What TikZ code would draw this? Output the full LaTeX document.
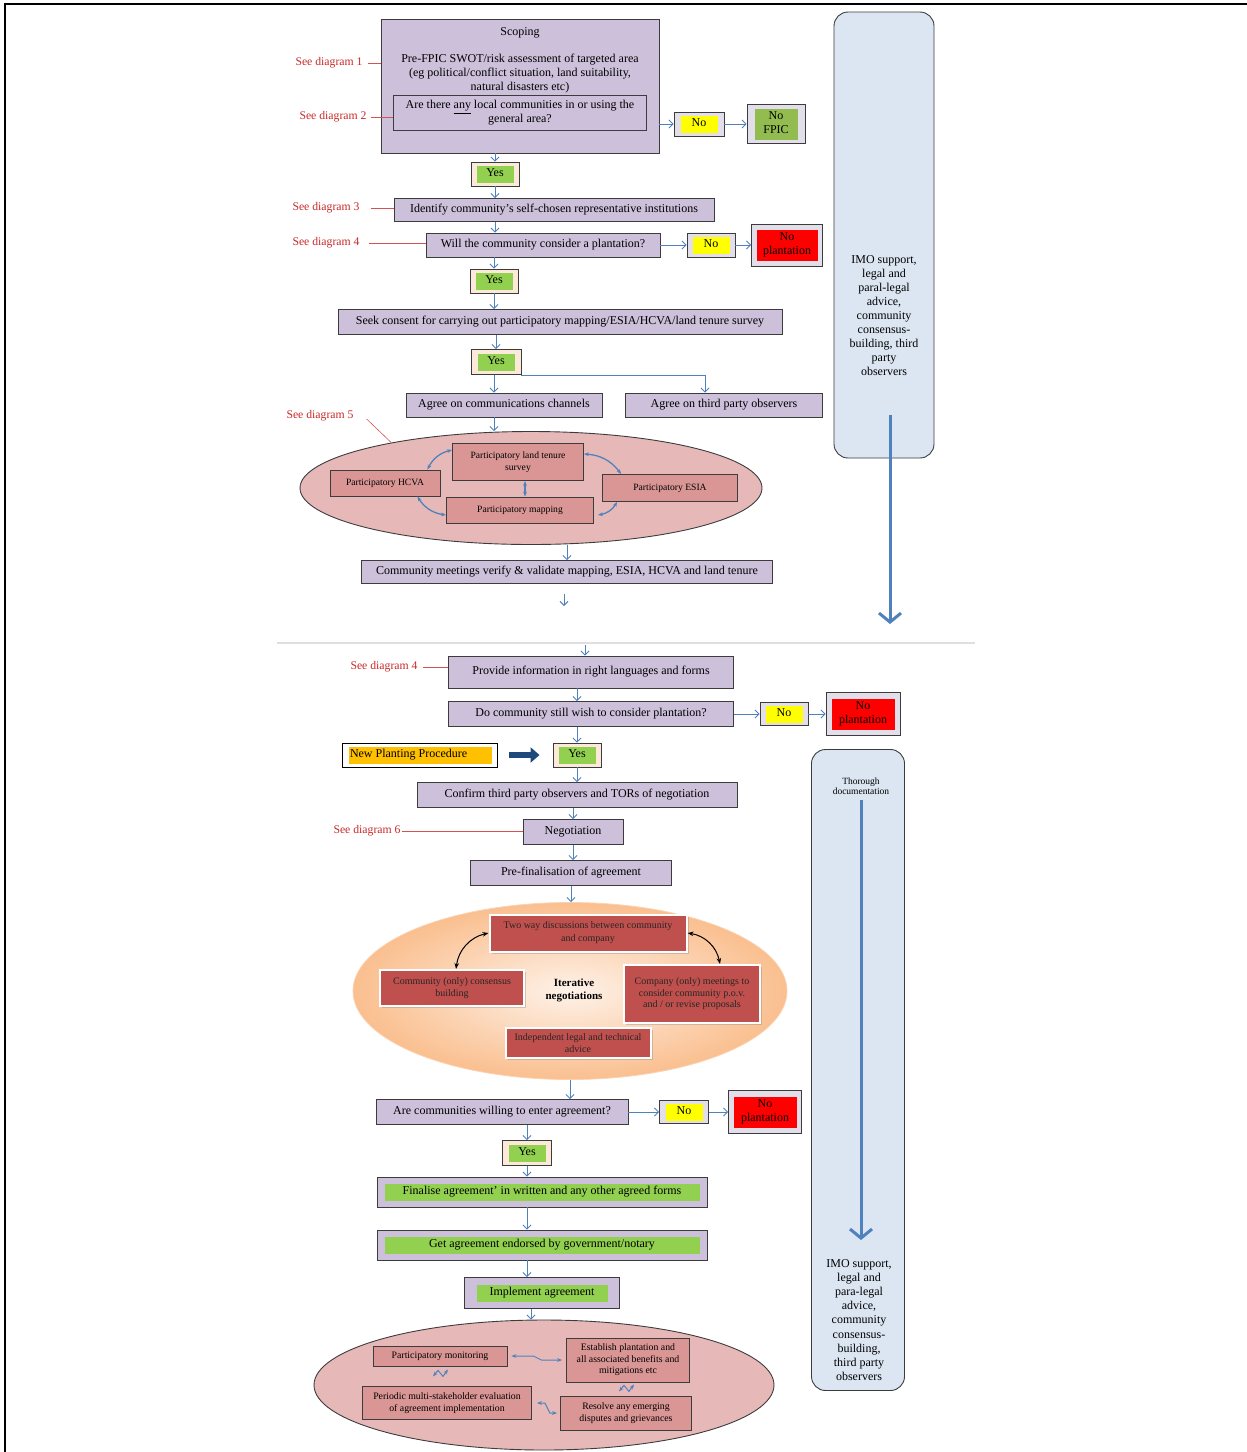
\documentclass[tikz,border=0pt]{standalone}
\usepackage{fontspec}
\setmainfont{Liberation Serif}
\usetikzlibrary{arrows.meta,shapes.geometric,shadows}
\definecolor{lav}{RGB}{204,192,218}
\definecolor{edge}{RGB}{60,60,60}
\definecolor{peach}{RGB}{253,233,217}
\definecolor{yesgreen}{RGB}{146,208,80}
\definecolor{nogray}{RGB}{226,222,234}
\definecolor{noyellow}{RGB}{255,255,0}
\definecolor{nored}{RGB}{255,0,0}
\definecolor{fpicgreen}{RGB}{146,188,80}
\definecolor{flowblue}{RGB}{79,129,189}
\definecolor{seered}{RGB}{200,40,40}
\definecolor{rose}{RGB}{230,185,184}
\definecolor{rosebox}{RGB}{217,150,148}
\definecolor{brick}{RGB}{192,80,77}
\definecolor{skyfill}{RGB}{220,230,242}
\definecolor{apricot}{RGB}{250,191,143}
\definecolor{navyarrow}{RGB}{31,73,125}
\definecolor{amber}{RGB}{255,192,0}
\newcommand\tintbox[3]{{\setlength\fboxsep{1.5pt}\colorbox{#1}{\parbox[c]{#2}{\centering\strut #3\strut}}}}

\begin{document}
\begin{tikzpicture}[x=1pt,y=-1pt,
  proc/.style={draw=edge, fill=lav, line width=0.9pt, align=center, inner sep=2pt,
    font=\fontsize{12}{14}\selectfont},
  seelab/.style={text=seered, inner sep=1pt, font=\fontsize{11.7}{13}\selectfont},
  seeline/.style={draw=seered!80, line width=0.6pt},
  ansbox/.style={draw=edge, line width=0.9pt, inner sep=2.5pt, align=center,
    font=\fontsize{12}{14}\selectfont},
  yesbox/.style={ansbox, fill=peach, minimum width=48, minimum height=24},
  nobox/.style={ansbox, fill=nogray},
  flow/.style={draw=flowblue, line width=0.9pt, -{Straight Barb[length=4pt,width=8pt]}},
  bigflow/.style={draw=flowblue, line width=3pt, -{Straight Barb[length=9pt,width=22pt]}},
  ringA/.style={ellipse, draw=edge, fill=rose, line width=0.9pt, inner sep=0pt},
  part/.style={draw=edge, fill=rosebox, line width=0.8pt, align=center, inner sep=1pt,
    font=\fontsize{9.6}{11.5}\selectfont},
  swap/.style={draw=flowblue, line width=1.3pt, {Stealth[length=5pt]}-{Stealth[length=5pt]}},
  iter/.style={fill=brick, draw=white, line width=2pt, align=center, inner sep=1pt,
    drop shadow={shadow xshift=2pt, shadow yshift=-2pt, opacity=0.35},
    font=\fontsize{10}{12}\selectfont, text=black!85},
  side/.style={draw=edge, fill=skyfill, line width=0.9pt, rounded corners=14pt}]
\useasboundingbox (0,0) rectangle (1247,1452);
\draw [line width=2pt] (5,1452) -- (5,4) -- (1247,4);
\draw [gray!25, line width=1.5pt] (277,643) -- (975,643);

\node[side, minimum width=100, minimum height=446] (imo1) at (884,235) {};
\node[align=center, font=\fontsize{12}{14}\selectfont] (imotxt1) at (884,316) {IMO support,\\legal and\\paral-legal\\advice,\\community\\consensus-\\building, third\\party\\observers};
\coordinate (a1s) at (890,415);
\coordinate (a1e) at (890,624);
\draw[bigflow] (a1s) -- (a1e);

\node[proc, minimum width=278, minimum height=134] (scop) at (520,86) {};
\node[align=center, font=\fontsize{12}{14}\selectfont] (scoptxt) at (520,60) {Scoping\\[13pt]Pre-FPIC SWOT/risk assessment of targeted area\\(eg political/conflict situation, land suitability,\\natural disasters etc)};
\node[proc, minimum width=253, minimum height=35] (q1) at (520,113) {Are there \underline{any} local communities in or using the\\general area?};
\node[seelab] (sd1) at (329,63) {See diagram 1};
\node[seelab] (sd2) at (333,117) {See diagram 2};
\draw[seeline] ([xshift=4pt]sd1.east) -- (scop.west |- sd1.east);
\draw[seeline] ([xshift=3pt]sd2.east) -- (q1.west |- sd2.east);
\node[nobox, minimum width=50, minimum height=24] (no1) at (699,124) {\tintbox{noyellow}{34pt}{No}};
\node[nobox, minimum width=58, minimum height=39] (nofpic) at (776,124) {\tintbox{fpicgreen}{40pt}{No\\FPIC}};
\draw[flow] (scop.east |- no1.west) -- (no1.west);
\draw[flow] (no1.east) -- (nofpic.west);
\node[yesbox] (yes1) at (495,174) {\tintbox{yesgreen}{34pt}{Yes}};
\draw[flow] (yes1 |- scop.south) -- (yes1.north);

\node[proc, minimum width=320, minimum height=23] (ident) at (554,210) {Identify community’s self-chosen representative institutions};
\node[seelab] (sd3) at (326,208) {See diagram 3};
\draw[seeline] ([xshift=10pt]sd3.east) -- (ident.west |- sd3.east);
\draw[flow] (yes1.south) -- (yes1 |- ident.north);
\node[proc, minimum width=234, minimum height=24] (will) at (543,245) {Will the community consider a plantation?};
\node[seelab] (sd4) at (326,243) {See diagram 4};
\draw[seeline] ([xshift=8pt]sd4.east) -- (will.west |- sd4.east);
\draw[flow] (yes1 |- ident.south) -- (yes1 |- will.north);
\node[nobox, minimum width=48, minimum height=24] (no2) at (711,245) {\tintbox{noyellow}{34pt}{No}};
\node[nobox, minimum width=71, minimum height=42] (np2) at (787,245) {\tintbox{nored}{58pt}{No\\plantation}};
\draw[flow] (will.east) -- (no2.west);
\draw[flow] (no2.east) -- (np2.west);
\node[yesbox] (yes2) at (494,281) {\tintbox{yesgreen}{34pt}{Yes}};
\draw[flow] (yes2 |- will.south) -- (yes2.north);
\node[proc, minimum width=444, minimum height=25] (seek) at (560,322) {Seek consent for carrying out participatory mapping/ESIA/HCVA/land tenure survey};
\draw[flow] (yes2.south) -- (yes2 |- seek.north);
\node[yesbox, minimum width=50, minimum height=25] (yes3) at (496,362) {\tintbox{yesgreen}{34pt}{Yes}};
\draw[flow] (yes3 |- seek.south) -- (yes3.north);
\node[proc, minimum width=196, minimum height=24] (acomm) at (504,405) {Agree on communications channels};
\node[proc, minimum width=197, minimum height=24] (athird) at (724,405) {Agree on third party observers};
\draw[flow] ([xshift=-2pt]yes3.south) -- ([xshift=-2pt]yes3.south |- acomm.north);
\draw[flow] (yes3.south east) -| ([xshift=-19pt]athird.north);

\node[ringA, minimum width=462, minimum height=113] (ell1) at (531,488) {};
\node[seelab] (sd5) at (320,416) {See diagram 5};
\draw[seeline] ([xshift=12pt,yshift=-3pt]sd5.east) -- (ell1.162);
\draw[flow] ([xshift=-2pt]yes3.south |- acomm.south) -- ([xshift=-2pt]yes3.south |- ell1.north);
\node[part, minimum width=131, minimum height=37] (land) at (518,462) {Participatory land tenure\\survey};
\node[part, minimum width=110, minimum height=26] (hcva) at (385,483) {Participatory HCVA};
\node[part, minimum width=147, minimum height=26] (map) at (520,510) {Participatory mapping};
\node[part, minimum width=135, minimum height=27] (esia) at (670,488) {Participatory ESIA};
\draw[swap] ([xshift=-13pt]hcva.north east) to[bend left=25] ([yshift=12pt]land.west);
\draw[swap] ([xshift=-23pt]hcva.south east) to[bend right=25] ([yshift=-5pt]map.west);
\draw[swap] ([yshift=8pt]land.east) to[bend left=25] ([xshift=19pt]esia.north west);
\draw[swap] ([xshift=4pt,yshift=-5pt]map.east) to[bend right=25] ([xshift=15pt]esia.south west);
\draw[swap] ([xshift=7pt]land.south) -- ([xshift=5pt]map.north);
\node[proc, minimum width=411, minimum height=23] (cmeet) at (567,572) {Community meetings verify \& validate mapping, ESIA, HCVA and land tenure};
\draw[flow] (cmeet.north |- ell1.south) -- (cmeet.north);
\coordinate (cmout) at (564,606);
\draw[flow] (cmout |- cmeet.south) ++(0,10) -- (cmout);

\coordinate (pin) at (585,645);
\node[proc, minimum width=285, minimum height=32] (prov) at (591,672) {Provide information in right languages and forms};
\node[seelab] (sd4b) at (384,667) {See diagram 4};
\draw[seeline] ([xshift=4pt]sd4b.east) -- (prov.west |- sd4b.east);
\draw[flow] (pin) -- (pin |- prov.north);
\node[proc, minimum width=285, minimum height=25] (docomm) at (591,714) {Do community still wish to consider plantation?};
\node[nobox, minimum width=48, minimum height=23] (no3) at (784,714) {\tintbox{noyellow}{34pt}{No}};
\node[nobox, minimum width=74, minimum height=43] (np3) at (863,714) {\tintbox{nored}{60pt}{No\\plantation}};
\draw[flow] (docomm.east) -- (no3.west);
\draw[flow] (no3.east) -- (np3.west);
\node[yesbox] (yes4) at (577,755) {\tintbox{yesgreen}{34pt}{Yes}};
\draw[flow] (yes4 |- prov.south) -- (yes4 |- docomm.north);
\draw[flow] (yes4 |- docomm.south) -- (yes4.north);
\node[draw=black, line width=1pt, fill=white, inner sep=2.5pt, minimum width=155, minimum height=24, font=\fontsize{12}{14}\selectfont] (npp) at (420,755) {{\setlength\fboxsep{1.5pt}\colorbox{amber}{\parbox[c]{140pt}{\strut New Planting Procedure}}}};
\draw[navyarrow, line width=6pt, -{Triangle[length=9pt,width=15pt]}] ([xshift=11pt]npp.east) -- ([xshift=-13pt]yes4.west);
\node[proc, minimum width=320, minimum height=25] (confirm) at (577,795) {Confirm third party observers and TORs of negotiation};
\draw[flow] (yes4.south) -- (yes4 |- confirm.north);
\node[proc, minimum width=100, minimum height=25] (nego) at (573,832) {Negotiation};
\node[seelab] (sd6) at (367,831) {See diagram 6};
\draw[seeline] (sd6.east) -- (nego.west |- sd6.east);
\draw[flow] (nego |- confirm.south) -- (nego.north);
\node[proc, minimum width=201, minimum height=25] (prefin) at (571,873) {Pre-finalisation of agreement};
\draw[flow] (nego.south) -- (nego |- prefin.north);

\node[ellipse, inner sep=0pt, draw=apricot!70, line width=0.8pt, shade, inner color=peach!60, outer color=apricot, minimum width=434, minimum height=177] (ell2) at (570,991) {};
\draw[flow] (prefin.south) -- (prefin.south |- ell2.north);
\node[iter, minimum width=197, minimum height=37, font=\fontsize{10}{13}\selectfont] (twoway) at (588,933) {Two way discussions between community\\and company};
\node[iter, minimum width=144, minimum height=36] (cons) at (452,988) {Community (only) consensus\\building};
\node[font=\fontsize{11}{13}\selectfont\bfseries, align=center] (itn) at (574,990) {Iterative\\negotiations};
\node[iter, minimum width=136, minimum height=58, font=\fontsize{10}{11.5}\selectfont] (comp) at (692,994) {Company (only) meetings to\\consider community p.o.v.\\and / or revise proposals};
\node[iter, minimum width=145, minimum height=30] (indep) at (578,1043) {Independent legal and technical\\advice};
\draw[line width=1pt, {Stealth[length=6pt]}-{Stealth[length=6pt]}] (twoway.west) to[bend right=35] ([xshift=4pt]cons.north);
\draw[line width=1pt, {Stealth[length=6pt]}-{Stealth[length=6pt]}] (twoway.east) to[bend left=35] ([xshift=28pt]comp.north);

\node[proc, minimum width=252, minimum height=25] (arecomm) at (502,1112) {Are communities willing to enter agreement?};
\draw[flow] (ell2.south) -- (ell2.south |- arecomm.north);
\node[nobox, minimum width=49, minimum height=23] (no4) at (684,1112) {\tintbox{noyellow}{34pt}{No}};
\node[nobox, minimum width=73, minimum height=43] (np4) at (765,1112) {\tintbox{nored}{60pt}{No\\plantation}};
\draw[flow] (arecomm.east) -- (no4.west);
\draw[flow] (no4.east) -- (np4.west);
\node[yesbox, minimum width=49, minimum height=25] (yes5) at (527,1153) {\tintbox{yesgreen}{34pt}{Yes}};
\draw[flow] (yes5 |- arecomm.south) -- (yes5.north);
\node[proc, minimum width=330, minimum height=30, inner sep=5pt] (final) at (542,1192) {\tintbox{yesgreen}{312pt}{Finalise agreement’ in written and any other agreed forms}};
\draw[flow] (yes5.south) -- (yes5 |- final.north);
\node[proc, minimum width=330, minimum height=30, inner sep=5pt] (getag) at (542,1245) {\tintbox{yesgreen}{312pt}{Get agreement endorsed by government/notary}};
\draw[flow] (yes5 |- final.south) -- (yes5 |- getag.north);
\node[proc, minimum width=155, minimum height=31, inner sep=5pt] (impl) at (542,1293) {\tintbox{yesgreen}{128pt}{Implement agreement}};
\draw[flow] (yes5 |- getag.south) -- (yes5 |- impl.north);

\node[ringA, minimum width=460, minimum height=130] (ell3) at (544,1385) {};
\draw[flow] ([xshift=4pt]yes5.south |- impl.south) -- ([xshift=4pt]yes5.south |- ell3.north);
\node[part, minimum width=134, minimum height=20, font=\fontsize{9.8}{11.5}\selectfont] (mon) at (440,1356) {Participatory monitoring};
\node[part, minimum width=123, minimum height=44, font=\fontsize{9.8}{11.5}\selectfont] (est) at (628,1360) {Establish plantation and\\all associated benefits and\\mitigations etc};
\node[part, minimum width=169, minimum height=33, font=\fontsize{9.8}{11.5}\selectfont] (per) at (447,1403) {Periodic multi-stakeholder evaluation\\of agreement implementation};
\node[part, minimum width=131, minimum height=34, font=\fontsize{9.8}{11.5}\selectfont] (res) at (626,1413) {Resolve any emerging\\disputes and grievances};
\draw[swap, line width=1pt] ([xshift=4pt]mon.east) -- ++(22,0) -- ++(8,4) -- ([xshift=-4pt]est.west);
\draw[swap, line width=1pt] ([xshift=5pt]per.east) -- ++(8,0) -- ++(5,10) -- ([xshift=-3pt]res.west);
\draw[swap, line width=1pt] ([xshift=-7pt,yshift=-10pt]mon.south) -- ++(5,-6) -- ++(5,6) -- ([xshift=8pt,yshift=-3pt]mon.south);
\draw[swap, line width=1pt] ([xshift=-9pt,yshift=-9pt]est.south) -- ++(5,-6) -- ++(5,6) -- ([xshift=6pt,yshift=-2pt]est.south);

\node[side, minimum width=93, minimum height=641] (imo2) at (858,1070) {};
\node[align=center, font=\fontsize{9.5}{10.5}\selectfont] (thor) at (861,786) {Thorough\\documentation};
\coordinate (a2s) at (861,800);
\coordinate (a2e) at (861,1240);
\draw[bigflow] (a2s) -- (a2e);
\node[align=center, font=\fontsize{12}{14.2}\selectfont] (imotxt2) at (859,1320) {IMO support,\\legal and\\para-legal\\advice,\\community\\consensus-\\building,\\third party\\observers};
\end{tikzpicture}
\end{document}
